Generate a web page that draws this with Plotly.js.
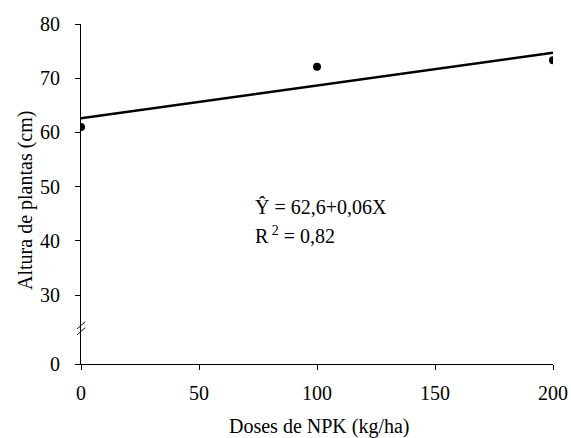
<!DOCTYPE html>
<html>
<head>
<meta charset="utf-8">
<script src="https://cdn.plot.ly/plotly-3.0.1.min.js"></script>
<style>html,body{margin:0;padding:0;background:#fff;}#chart{width:571px;height:438px;}</style>
</head>
<body>
<div id="chart"></div>
<script>
// Observed data
const doses = [0, 100, 200];
const altura = [61.0, 72.1, 73.3];
// Fitted line (Ŷ = 62,6 + 0,06X) endpoints
const fitX = [0, 200];
const fitY = [62.6, 74.7];
// Axis ticks (broken y axis: 0 shown below the break)
const xTicks = [0, 50, 100, 150, 200];
const yTickLabels = ['0', '30', '40', '50', '60', '70', '80'];
const yBreakZero = 17.3; // plotted position of the "0" label below the break
const yTickVals = [yBreakZero, 30, 40, 50, 60, 70, 80];

const serif = "'Liberation Serif', 'Times New Roman', serif";
const fs = 20;

const traces = [
  {x: fitX, y: fitY, mode: 'lines', line: {color: '#000', width: 2.5}, hoverinfo: 'skip', showlegend: false},
  {x: doses, y: altura, mode: 'markers', marker: {color: '#000', size: 8}, showlegend: false}
];

const layout = {
  width: 571, height: 438,
  margin: {l: 81, r: 18, t: 24, b: 74},
  paper_bgcolor: '#fff', plot_bgcolor: '#fff',
  font: {family: serif, size: fs, color: '#000'},
  showlegend: false,
  xaxis: {
    range: [0, 200], tickvals: xTicks, ticktext: xTicks.map(String),
    showgrid: false, zeroline: false, showline: true, linecolor: '#000', linewidth: 1,
    ticks: 'outside', ticklen: 5, tickcolor: '#000', tickwidth: 1, ticklabelstandoff: 6,
    tickfont: {family: serif, size: fs, color: '#000'}, fixedrange: true
  },
  yaxis: {
    range: [yBreakZero, 80], tickvals: yTickVals, ticktext: yTickLabels,
    showgrid: false, zeroline: false, showline: true, linecolor: '#000', linewidth: 1,
    ticks: 'outside', ticklen: 5, tickcolor: '#000', tickwidth: 1, ticklabelstandoff: 11,
    tickfont: {family: serif, size: fs, color: '#000'}, fixedrange: true
  },
  annotations: [
    {text: 'Doses de NPK (kg/ha)', xref: 'paper', yref: 'paper', x: 0.506, y: -0.185,
     xanchor: 'center', yanchor: 'middle', showarrow: false, font: {family: serif, size: fs, color: '#000'}},
    {text: 'Altura de plantas (cm)', xref: 'paper', yref: 'paper', x: -0.119, y: 0.482,
     xanchor: 'center', yanchor: 'middle', textangle: -90, showarrow: false, font: {family: serif, size: fs, color: '#000'}},
    {text: 'Ŷ = 62,6+0,06X', xref: 'x', yref: 'y', x: 73, y: 46.2,
     xanchor: 'left', yanchor: 'middle', showarrow: false, font: {family: serif, size: fs, color: '#000'}},
    {text: 'R<sup> 2</sup> = 0,82', xref: 'x', yref: 'y', x: 73, y: 41.0,
     xanchor: 'left', yanchor: 'middle', showarrow: false, font: {family: serif, size: fs, color: '#000'}}
  ],
  shapes: [
    {type: 'line', xref: 'paper', yref: 'y', x0: -0.008, x1: 0.009, y0: 23.8, y1: 25.1, line: {color: '#000', width: 1}},
    {type: 'line', xref: 'paper', yref: 'y', x0: -0.008, x1: 0.009, y0: 22.7, y1: 24.0, line: {color: '#000', width: 1}}
  ]
};

Plotly.newPlot('chart', traces, layout, {displayModeBar: false, staticPlot: true});
</script>
</body>
</html>
